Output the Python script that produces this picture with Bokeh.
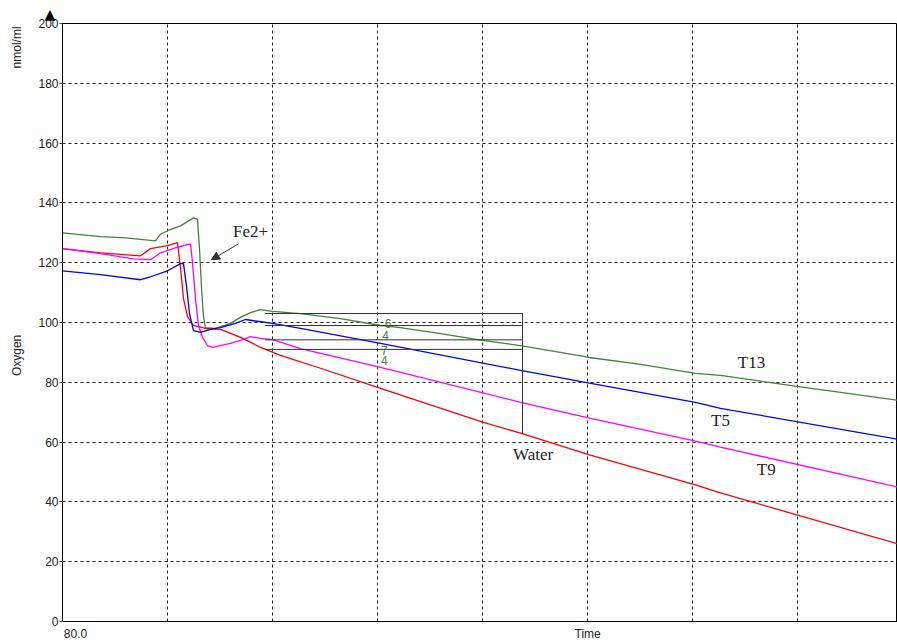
from bokeh.plotting import figure
from bokeh.models import (Range1d, FixedTicker, Label, Arrow, NormalHead,
                          LinearAxis, Title)
from bokeh.embed import file_html
from bokeh.resources import INLINE

# ---- data (time, oxygen nmol/ml) ----
green_t = [80, 116.2, 140, 168.5, 173.3, 180, 192.4, 204.7, 208.5, 210.4,
           212.3, 214.2, 216.1, 225.7, 239.9, 249.5, 259, 268.5, 280, 306.6,
           344.7, 382.8, 401.8, 439.9, 480, 516.1, 581.7, 630.3, 682.6, 706.4,
           782.6, 874.9]
green_v = [130, 128.7, 128.3, 127.3, 129.5, 130.7, 132.3, 135, 134.5, 125,
           112, 102, 98.3, 98, 99.7, 101.7, 103.3, 104.3, 103.7, 103,
           101.3, 99, 98.3, 96.3, 94, 92.3, 88.3, 86, 83, 82.3,
           78.5, 74]

red_t = [80, 116.2, 154.3, 163.8, 180, 189.5, 192.4, 195.2, 199, 204.7,
         216.1, 230.4, 249.5, 268.5, 287.6, 325.6, 382.8, 480, 516.1, 581.7,
         682.6, 706.4, 874.9]
red_v = [124.7, 123.3, 122.3, 124.7, 125.7, 126.7, 118, 108, 102, 99,
         98, 97.7, 95, 91.7, 89, 84.7, 78, 66.7, 63, 55.7,
         45.7, 43, 26]

magenta_t = [80, 116.2, 147.6, 163.8, 173.3, 187.6, 201.9, 203.8, 206.6, 209.5,
             213.3, 218, 222.8, 230.4, 239.9, 249.5, 259, 268.5, 280, 306.6,
             382.8, 516.1, 581.7, 682.6, 706.4, 874.9]
magenta_v = [124.7, 123, 121.3, 121, 123.3, 125, 126.3, 120, 108, 99,
             95, 92.3, 91.7, 92.3, 93, 94, 95.3, 94.7, 94.3, 91.3,
             85, 73.3, 68, 60.3, 58.3, 45]

blue_t = [80, 116.2, 154.3, 163.8, 180, 192.4, 195.2, 198.1, 200.9, 204.7,
          211.4, 220.9, 230.4, 244.7, 254.2, 263.8, 280, 306.6, 382.8, 516.1,
          581.7, 682.6, 706.4, 874.9]
blue_v = [117.3, 116, 114.3, 115.3, 117.3, 119.7, 119.7, 112, 103, 97.3,
          96.7, 97.7, 98.3, 99.7, 101, 100.5, 99.7, 98, 93, 84,
          79.7, 73.3, 71.3, 61]

y_ticks = [0, 20, 40, 60, 80, 100, 120, 140, 160, 180, 200]
x_grid = [180, 280, 380, 480, 580, 680, 780]
x_label_ticks = [92.4, 580]
x_label_texts = ["80.0", "Time"]
y_label_ticks = [89, 192]
y_label_texts = ["Oxygen", "nmol/ml"]

# measurement box (slope readout)
box_levels = [103, 99, 94.2, 91]
box_t0, box_t1 = 273, 518
box_bottom = 62.7
box_texts = ["6", "4", "7", "4"]
box_text_t = [390, 387.5, 386.5, 386.5]
box_text_v = [99.7, 95.7, 90.7, 87.3]

series_labels = ["T13", "T5", "T9", "Water", "Fe2+"]
series_label_t = [736, 706.5, 750, 528, 259]
series_label_v = [86.7, 67.3, 50.7, 56, 130.3]

GREEN = "#4b7d3f"
TXT = "#222222"

p = figure(width=897, height=643, output_backend="svg", toolbar_location=None,
           x_range=Range1d(80, 875), y_range=Range1d(0, 200),
           min_border_left=62, min_border_right=0, min_border_top=23,
           min_border_bottom=21, background_fill_color="white",
           border_fill_color="white")
p.outline_line_color = "black"
p.outline_line_width = 1

# y axis (ticks)
p.yaxis.ticker = FixedTicker(ticks=y_ticks)
p.yaxis.major_label_text_font = "Liberation Sans"
p.yaxis.major_label_text_font_size = "12px"
p.yaxis.major_label_text_color = TXT
p.yaxis.major_tick_out = 3
p.yaxis.major_tick_in = 0
p.yaxis.minor_tick_line_color = None
p.yaxis.major_label_standoff = 1
p.yaxis.axis_line_color = "black"
p.yaxis.major_tick_line_color = "#444444"

# outer y labels ("Oxygen", "nmol/ml")
ylab = LinearAxis(ticker=FixedTicker(ticks=y_label_ticks),
                  major_label_overrides=dict(zip(y_label_ticks, y_label_texts)),
                  major_label_orientation="vertical",
                  axis_line_color=None, major_tick_line_color=None,
                  minor_tick_line_color=None, major_label_standoff=5,
                  major_label_text_font="Liberation Sans",
                  major_label_text_font_size="12px",
                  major_label_text_color=TXT)
p.add_layout(ylab, "left")

# x axis: only "80.0" and "Time" labels
p.xaxis.ticker = FixedTicker(ticks=x_label_ticks)
p.xaxis.major_label_overrides = dict(zip(x_label_ticks, x_label_texts))
p.xaxis.major_label_text_font = "Liberation Sans"
p.xaxis.major_label_text_font_size = "12px"
p.xaxis.major_label_text_color = TXT
p.xaxis.major_label_standoff = 5
p.xaxis.major_tick_out = 0
p.xaxis.major_tick_in = 0
p.xaxis.major_tick_line_color = None
p.xaxis.minor_tick_line_color = None
p.xaxis.axis_line_color = "black"

# up-arrow marker above the y axis
p.add_layout(Title(text="\u25b2", align="left", offset=-18,
                   text_font="DejaVu Sans", text_font_size="14px",
                   text_color="black", standoff=3), "above")

# grid
p.ygrid.ticker = FixedTicker(ticks=y_ticks[1:-1])
p.xgrid.ticker = FixedTicker(ticks=x_grid)
for g in (p.xgrid, p.ygrid):
    g.grid_line_color = "#222222"
    g.grid_line_dash = "3 3"
    g.grid_line_width = 1

# series
p.line(green_t, green_v, line_color=GREEN, line_width=1.3)
p.line(red_t, red_v, line_color="#ff0000", line_width=1.3)
p.line(magenta_t, magenta_v, line_color="#ff00ff", line_width=1.3)
p.line(blue_t, blue_v, line_color="#0000ff", line_width=1.3)

# measurement box
n = len(box_levels)
p.segment(x0=[box_t0] * n, y0=box_levels, x1=[box_t1] * n, y1=box_levels,
          line_color="#333333", line_width=1)
p.segment(x0=[box_t1], y0=[box_levels[0]], x1=[box_t1], y1=[box_bottom],
          line_color="#333333", line_width=1)
for txt, tt, vv in zip(box_texts, box_text_t, box_text_v):
    p.add_layout(Label(x=tt, y=vv, text=txt, text_align="center",
                       text_baseline="middle", text_font="Liberation Sans",
                       text_font_size="12px", text_color=GREEN))

# series labels
for txt, tt, vv in zip(series_labels, series_label_t, series_label_v):
    p.add_layout(Label(x=tt, y=vv, text=txt, text_align="center",
                       text_baseline="middle", text_font="Liberation Serif",
                       text_font_size="17px", text_color=TXT))

p.add_layout(Arrow(x_start=247.6, y_start=126.3, x_end=221.8, y_end=121,
                   line_color="#333333", line_width=1,
                   end=NormalHead(size=8, fill_color="#333333",
                                  line_color="#333333")))

open("out.html", "w").write(file_html(p, INLINE))
